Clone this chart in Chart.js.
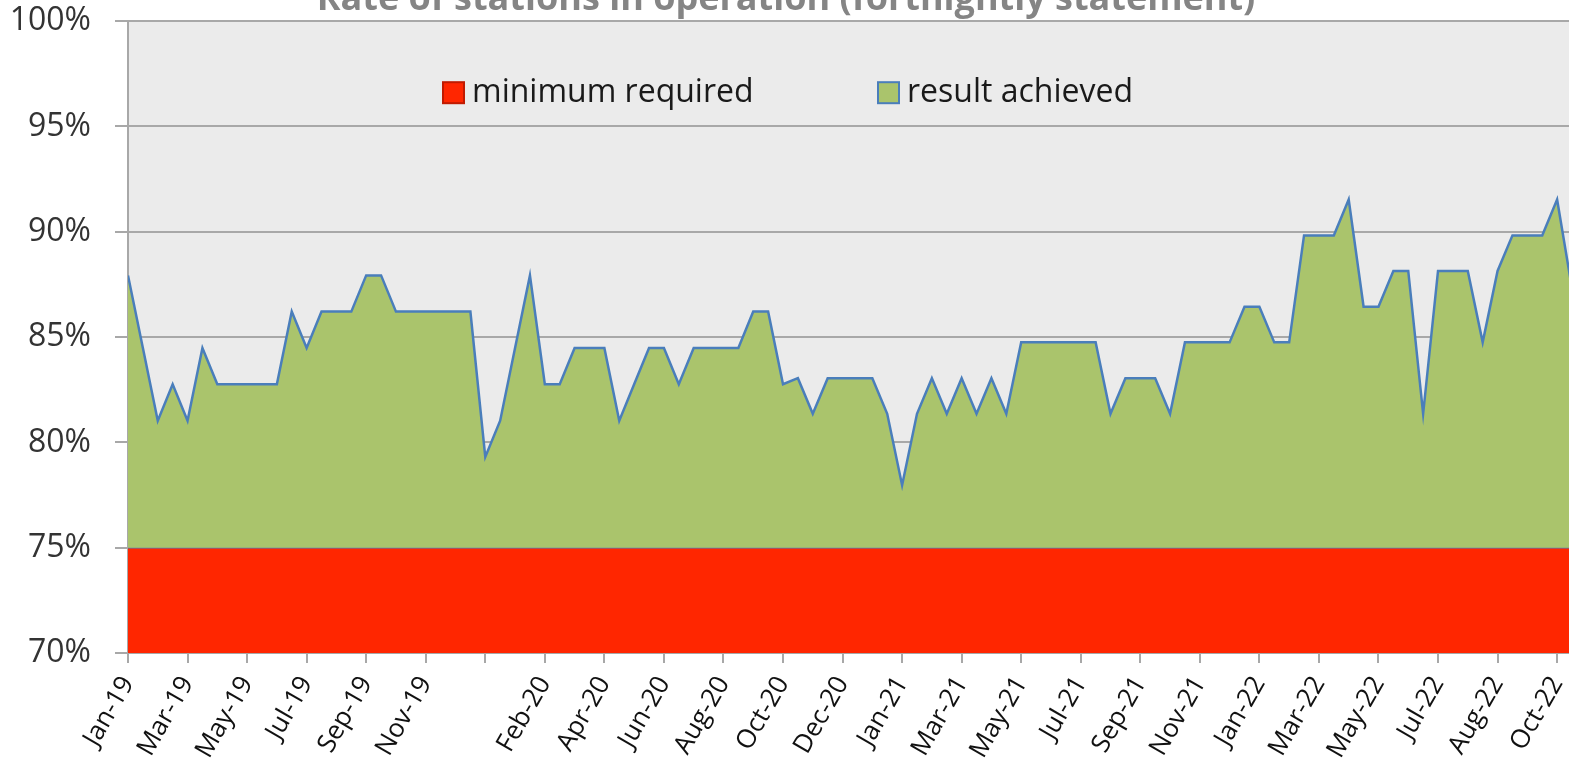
<!DOCTYPE html>
<html>
<head>
<meta charset="utf-8">
<script src="https://cdn.jsdelivr.net/npm/chart.js@4.4.1/dist/chart.umd.min.js"></script>
<style>
  html, body { margin: 0; padding: 0; background: #ffffff; }
  #wrap { position: relative; width: 1569px; height: 773px; overflow: hidden; }
  #chart { position: absolute; left: 0; top: -22px; }
</style>
</head>
<body>
<div id="wrap"><canvas id="chart" width="1600" height="795"></canvas></div>
<script>
// Chart data, one value per fortnightly statement

const titleText = 'Rate of stations in operation (fortnightly statement)';
const seriesNames = ['minimum required', 'result achieved'];

// labels shown every 4th statement (one slot has no label)
const tickLabels = ['Jan-19', 'Mar-19', 'May-19', 'Jul-19', 'Sep-19', 'Nov-19', '',
    'Feb-20', 'Apr-20', 'Jun-20', 'Aug-20', 'Oct-20', 'Dec-20', 'Jan-21', 'Mar-21',
    'May-21', 'Jul-21', 'Sep-21', 'Nov-21', 'Jan-22', 'Mar-22', 'May-22', 'Jul-22',
    'Aug-22', 'Oct-22'];

const achieved = [
    87.93, 84.48, 81.03, 82.76, 81.03, 84.48, 82.76, 82.76, 82.76, 82.76,
    82.76, 86.21, 84.48, 86.21, 86.21, 86.21, 87.93, 87.93, 86.21, 86.21,
    86.21, 86.21, 86.21, 86.21, 79.31, 81.03, 84.48, 87.93, 82.76, 82.76,
    84.48, 84.48, 84.48, 81.03, 82.76, 84.48, 84.48, 82.76, 84.48, 84.48,
    84.48, 84.48, 86.21, 86.21, 82.76, 83.05, 81.36, 83.05, 83.05, 83.05,
    83.05, 81.36, 77.97, 81.36, 83.05, 81.36, 83.05, 81.36, 83.05, 81.36,
    84.75, 84.75, 84.75, 84.75, 84.75, 84.75, 81.36, 83.05, 83.05, 83.05,
    81.36, 84.75, 84.75, 84.75, 84.75, 86.44, 86.44, 84.75, 84.75, 89.83,
    89.83, 89.83, 91.53, 86.44, 86.44, 88.14, 88.14, 81.36, 88.14, 88.14,
    88.14, 84.75, 88.14, 89.83, 89.83, 89.83, 91.53, 87.30
];

// threshold, flat over the whole period
const minimumRequired = [75, 75];

const yTicks = [70, 75, 80, 85, 90, 95, 100];

// Colours

const red = '#ff2600';
const green = '#aac46c';
const blue = '#4a7ebb';
const gridGray = '#a8a8a8';
const plotBack = '#ebebeb';

// Building points for the linear x scale

const lastIndex = achieved.length - 1;
const achievedPoints = achieved.map((v, i) => ({ x: i, y: v }));
const minimumPoints = minimumRequired.map((v, i) => ({ x: i * lastIndex, y: v }));

// Plot background and legend inside the plot

const plotBackground = {
    id: 'plotBackground',
    beforeDraw(chart) {
        const { ctx, chartArea } = chart;
        ctx.save();
        ctx.fillStyle = plotBack;
        ctx.fillRect(chartArea.left, chartArea.top, chartArea.right - chartArea.left, chartArea.bottom - chartArea.top);
        ctx.restore();
    }
};

const insideLegend = {
    id: 'insideLegend',
    afterDraw(chart) {
        const { ctx, chartArea } = chart;
        const sets = chart.data.datasets;
        const boxes = [315, 750];
        const top = chartArea.top + 61;
        ctx.save();
        ctx.font = '32px "Open Sans"';
        ctx.textBaseline = 'middle';
        ctx.textAlign = 'left';
        sets.forEach((ds, k) => {
            const x = chartArea.left + boxes[k];
            ctx.fillStyle = ds.backgroundColor;
            ctx.fillRect(x, top, 21, 21);
            ctx.lineWidth = 2;
            ctx.strokeStyle = k == 0 ? '#c01a00' : blue;
            ctx.strokeRect(x, top, 21, 21);
            ctx.fillStyle = '#1a1a1a';
            ctx.fillText(ds.label, x + 29, top + 11);
        });
        ctx.restore();
    }
};

const chart = new Chart(document.getElementById('chart'), {
    type: 'line',
    data: {
        datasets: [{
            label: seriesNames[0],
            data: minimumPoints,
            backgroundColor: red,
            borderColor: blue,
            borderWidth: 1.5,
            pointRadius: 0,
            fill: 'start',
            order: 2
        }, {
            label: seriesNames[1],
            data: achievedPoints,
            backgroundColor: green,
            borderColor: blue,
            borderWidth: 2.5,
            pointRadius: 0,
            tension: 0,
            fill: { value: 75 },
            order: 1
        }]
    },
    options: {
        responsive: false,
        animation: false,
        devicePixelRatio: 1,
        layout: {
            padding: { left: 0, right: 28, top: 0, bottom: 0 }
        },
        plugins: {
            legend: { display: false },
            tooltip: { enabled: false },
            title: {
                display: true,
                text: titleText,
                color: '#858585',
                font: { family: 'Open Sans', size: 36, weight: 'bold', lineHeight: 1 },
                padding: { top: 0, bottom: 3 }
            }
        },
        scales: {
            x: {
                type: 'linear',
                min: 0,
                max: lastIndex,
                afterBuildTicks: (scale) => {
                    scale.ticks = tickLabels.map((t, k) => ({ value: k * 4 }));
                },
                afterFit: (scale) => { scale.height = 120; },
                grid: {
                    drawOnChartArea: false,
                    drawTicks: true,
                    tickLength: 10,
                    color: gridGray,
                    lineWidth: 2
                },
                border: { color: gridGray, width: 2 },
                ticks: {
                    autoSkip: false,
                    minRotation: 60,
                    maxRotation: 60,
                    padding: 8,
                    color: '#111111',
                    font: { family: 'Open Sans', size: 26 },
                    callback: (value) => tickLabels[Math.round(value / 4)]
                }
            },
            y: {
                min: yTicks[0],
                max: yTicks[yTicks.length - 1],
                afterFit: (scale) => { scale.width = 128; },
                afterBuildTicks: (scale) => {
                    scale.ticks = yTicks.map(v => ({ value: v }));
                },
                grid: {
                    color: gridGray,
                    lineWidth: 2,
                    tickLength: 13
                },
                border: { color: gridGray, width: 2 },
                ticks: {
                    padding: 24,
                    color: '#333333',
                    font: { family: 'Open Sans', size: 32 },
                    callback: (value) => value + '%'
                }
            }
        }
    },
    plugins: [plotBackground, insideLegend]
});
</script>
</body>
</html>
